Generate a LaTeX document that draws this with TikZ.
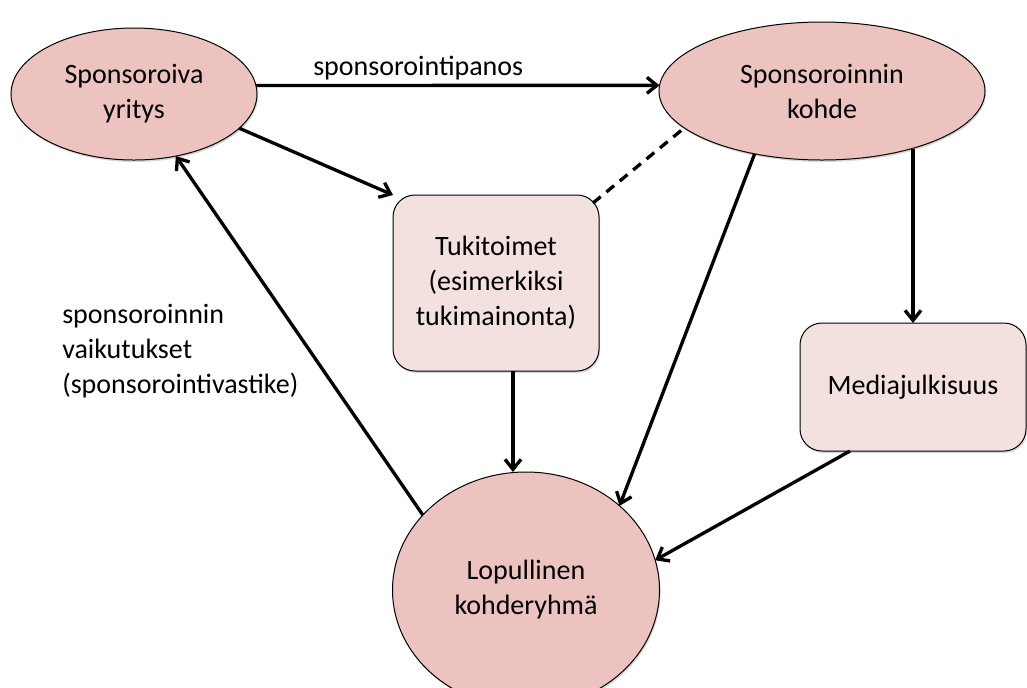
\documentclass[tikz,border=0pt]{standalone}
\usepackage{fontspec}
\setmainfont{Carlito}
\usetikzlibrary{shapes.geometric,arrows.meta,shadows,calc}
\definecolor{ellfill}{RGB}{236,195,191}
\definecolor{boxfill}{RGB}{242,225,222}
\begin{document}
\begin{tikzpicture}[x=0.75pt,y=-0.75pt,
  every node/.style={font=\fontsize{21pt}{26.25pt}\selectfont},
  shad/.style={drop shadow={opacity=0.3,shadow xshift=0.8pt,shadow yshift=-1.5pt}},
  ell/.style={ellipse, draw=black, line width=0.75pt, fill=ellfill, inner sep=0pt, outer sep=0pt, align=center, shad},
  rbox/.style={rectangle, rounded corners=16.5pt, draw=black, line width=0.75pt, fill=boxfill, inner sep=0pt, outer sep=0pt, align=center, shad},
  arr/.style={line width=2.5pt, -{Straight Barb[length=7.5pt,width=12pt]}},
  dashconn/.style={line width=2.5pt, dash pattern=on 7.5pt off 5.5pt},
  lbl/.style={inner sep=0pt, align=left}]
\useasboundingbox (0,0) rectangle (1027,687);
\fill[white] (0,0) rectangle (1027,687);

\node[ell, minimum width=184.5pt, minimum height=99pt] (spon) at (134,94) {Sponsoroiva\\yritys};
\node[ell, minimum width=244.5pt, minimum height=103.5pt] (kohde) at (822,91) {Sponsoroinnin\\kohde};
\node[rbox, minimum width=154.5pt, minimum height=132pt] (tuki) at (496,283) {Tukitoimet\\(esimerkiksi\\tukimainonta)};
\node[rbox, minimum width=169.5pt, minimum height=96pt] (media) at (913,387) {Mediajulkisuus};
\node[ell, minimum width=200.25pt, minimum height=177pt] (lop) at (526,590) {Lopullinen\\kohderyhmä};

\node[lbl, anchor=base west] (panos) at (313,75) {sponsorointipanos};
\node[lbl, anchor=west] (vaik) at (62,351) {sponsoroinnin\\vaikutukset\\(sponsorointivastike)};

\draw[arr] (spon.4.2) -- (kohde.178.2);
\draw[arr] (spon.-18.6) -- (tuki.north west);
\draw[arr] (lop.144.8) -- (spon.-56.9);
\draw[dashconn] ([shift={(-4.5pt,-6pt)}]tuki.north east) -- (kohde.195.7);
\draw[arr] (kohde.223.2) -- (lop.42.8);
\draw[arr] (kohde.-33.4 -| media.north) -- (media.north);
\draw[arr] ([xshift=12.75pt]tuki.south) -- ([xshift=12.75pt]tuki.south |- lop.north);
\draw[arr] ([xshift=-47.25pt]media.south) -- (lop.13.8);
\end{tikzpicture}
\end{document}
